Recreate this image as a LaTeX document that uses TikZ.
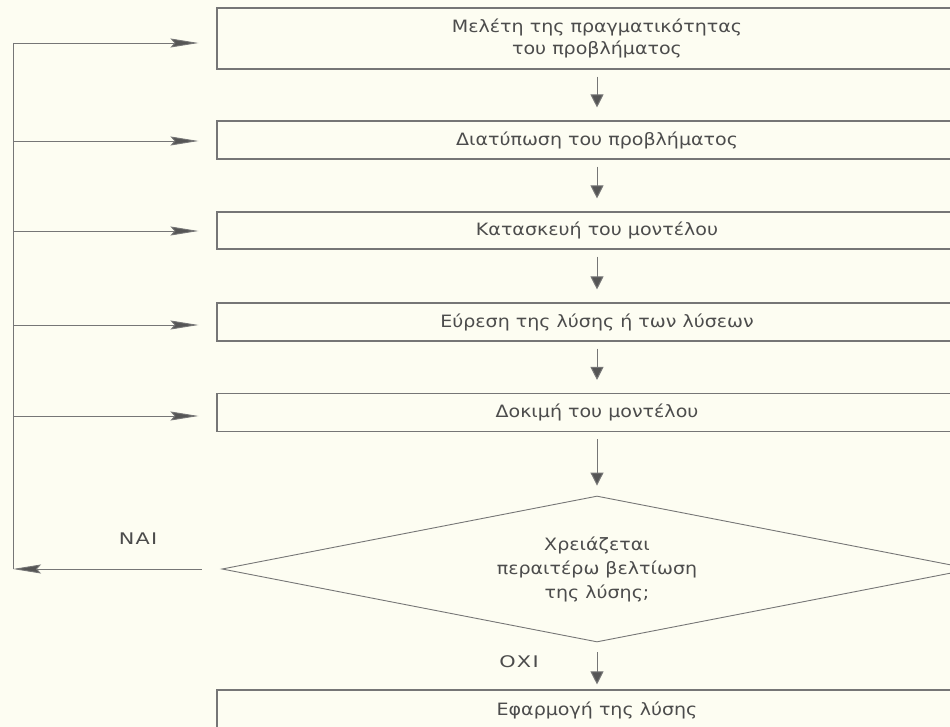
\documentclass[tikz,border=0pt]{standalone}
\usepackage{fontspec}
\setmainfont{DejaVu Sans}[FakeStretch=1.12]
\newfontfamily\lblfont{DejaVu Sans}[FakeStretch=1.3, LetterSpace=8]
\usetikzlibrary{shapes.geometric,arrows.meta}
\definecolor{bg}{HTML}{FDFDF2}
\definecolor{ln}{HTML}{767676}
\definecolor{tx}{HTML}{4C4C4C}
\definecolor{hd}{HTML}{555555}
\begin{document}
\begin{tikzpicture}[x=1pt,y=-1pt,
  box/.style={draw=ln, line width=1.1pt, minimum width=760pt, inner sep=0pt,
    text=tx, font=\fontsize{17}{22}\selectfont, align=center},
  dec/.style={diamond, draw=ln, line width=0.9pt, aspect=5.14,
    minimum width=750pt, minimum height=146pt, inner sep=0pt,
    text=tx, font=\fontsize{17}{24}\selectfont, align=center},
  down/.style={draw=ln, line width=1pt, -{Triangle[length=13pt,width=13pt,fill=hd]},
    shorten <=7pt, shorten >=13pt},
  fb/.style={draw=ln, line width=0.9pt, -{Stealth[length=28pt,width=9pt,inset=4pt,fill=hd]},
    shorten >=18pt},
  lbl/.style={text=tx, font=\lblfont\fontsize{16}{16}\selectfont}]
\useasboundingbox (0,0) rectangle (950,727);
\clip (0,0) rectangle (950,727);
\fill[bg] (0,0) rectangle (950,727);

\node[box, minimum height=61pt] (b1) at (597,38.5) {Μελέτη της πραγματικότητας\\του προβλήματος};
\node[box, minimum height=38pt] (b2) at (597,140) {Διατύπωση του προβλήματος};
\node[box, minimum height=37pt] (b3) at (597,230.5) {Κατασκευή του μοντέλου};
\node[box, minimum height=38pt] (b4) at (597,322) {Εύρεση της λύσης ή των λύσεων};
\node[box, minimum height=38pt] (b5) at (597,412.5) {Δοκιμή του μοντέλου};
\node[dec] (d) at (597,569) {Χρειάζεται\\περαιτέρω βελτίωση\\της λύσης;};
\node[box, minimum height=40pt] (b6) at (597,710) {Εφαρμογή της λύσης};

\draw[down] (b1) -- (b2);
\draw[down] (b2) -- (b3);
\draw[down] (b3) -- (b4);
\draw[down] (b4) -- (b5);
\draw[down, shorten >=10pt] (b5) -- (d);
\draw[down, shorten <=10pt, shorten >=5pt] (d) -- (b6);

\coordinate (f1) at (13,43);
\coordinate (f2) at (13,141);
\coordinate (f3) at (13,231);
\coordinate (f4) at (13,325);
\coordinate (f5) at (13,416);
\coordinate (n1) at (f1 |- d.west);

\draw[fb] (f1) -- (f1 -| b1.west);
\draw[fb] (f2) -- (f2 -| b2.west);
\draw[fb] (f3) -- (f3 -| b3.west);
\draw[fb] (f4) -- (f4 -| b4.west);
\draw[fb] (f5) -- (f5 -| b5.west);
\draw[draw=ln, line width=0.9pt] (f1) -- (n1);
\draw[fb, shorten >=0pt, shorten <=20pt] (d.west) -- (n1);

\node[lbl] (nai) at (138,539) {ΝΑΙ};
\node[lbl] (oxi) at (519,662) {ΟΧΙ};
\end{tikzpicture}
\end{document}
